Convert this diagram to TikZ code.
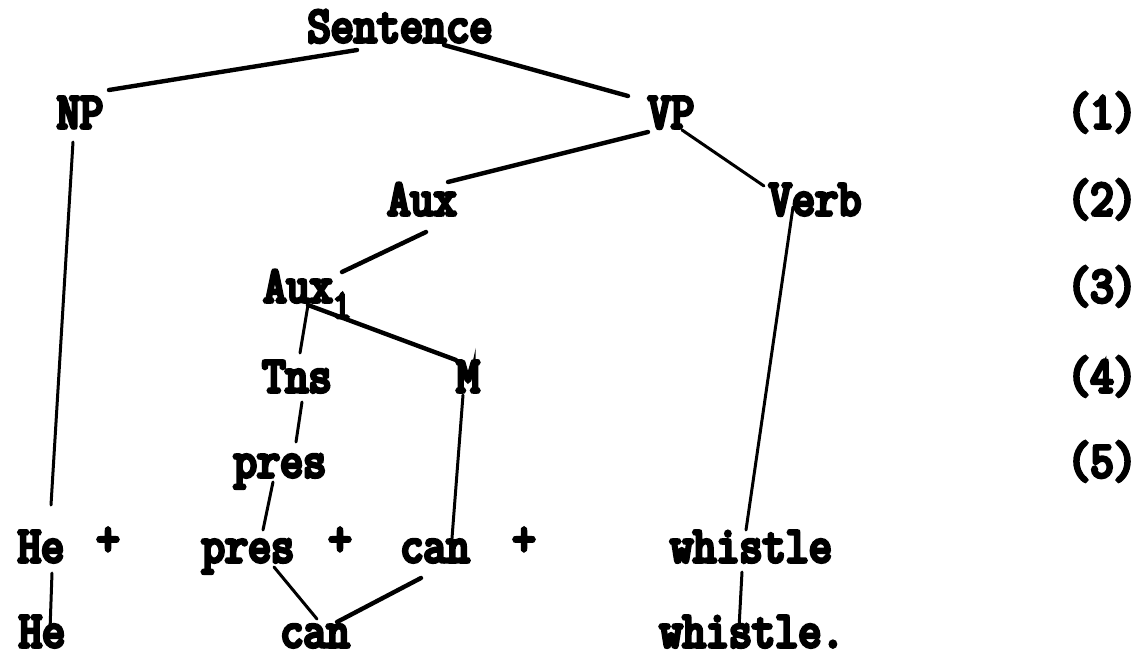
\documentclass[tikz,border=0pt]{standalone}
\usepackage{fontspec}
\newfontfamily\tw{Latin Modern Mono}[FakeStretch=0.88, FakeBold=7]
\usetikzlibrary{calc}
\begin{document}
\begin{tikzpicture}[x=0.5pt,y=-0.5pt,
  lab/.style={font={\tw\fontsize{25.5}{30}\selectfont}, inner sep=0pt, anchor=base},
  edge/.style={line width=2.2pt, line cap=round},
  thinedge/.style={line width=1.5pt, line cap=round}]
\useasboundingbox (0,0) rectangle (1135,659);
\fill[white] (0,0) rectangle (1135,659);
% row 0
\node[lab] (S) at (400,42) {Sentence};
% row 1
\node[lab] (NP) at (80,128) {NP};
\node[lab] (VP) at (671,128) {VP};
\node[lab] (L1) at (1102,128) {(1)};
% row 2
\node[lab] (Aux) at (422,215) {Aux};
\node[lab] (Verb) at (815,215) {Verb};
\node[lab] (L2) at (1102,215) {(2)};
% row 3
\node[lab, anchor=base west] (Aux1) at (263,302) {Aux\raisebox{-8pt}{\fontsize{20}{20}\selectfont 1}};
\node[lab] (L3) at (1102,302) {(3)};
% row 4
\node[lab] (Tns) at (297,392) {Tns};
\node[lab] (M) at (468,392) {M};
\node[lab] (L4) at (1102,392) {(4)};
% row 5
\node[lab] (presA) at (280,477) {pres};
\node[lab] (L5) at (1102,477) {(5)};
% row 6
\node[lab] (He6) at (41,562) {He};
\node[lab] (p1) at (108,555) {+};
\node[lab] (presB) at (248,562) {pres};
\node[lab] (p2) at (340,555) {+};
\node[lab] (canB) at (435,562) {can};
\node[lab] (p3) at (524,555) {+};
\node[lab] (whB) at (751,562) {whistle};
% row 7
\node[lab] (He7) at (42,647) {He};
\node[lab] (canC) at (315,647) {can};
\node[lab] (whC) at (752,647) {whistle.};
% connectors
\draw[edge] ($(S.base)+(-43,8)$) -- ($(NP.base)+(29,-38)$);
\draw[edge] ($(S.base)+(44,3)$) -- ($(VP.base)+(-43,-32)$);
\draw[edge] ($(VP.base)+(-23,4)$) -- ($(Aux.base)+(26,-33)$);
\draw[thinedge] ($(VP.base)+(11,2)$) -- ($(Verb.base)+(-51,-29)$);
\draw[thinedge] ($(NP.base)+(-7,14)$) -- ($(He6.base)+(10,-57)$);
\draw[edge] ($(Aux.base)+(4,17)$) -- ($(Aux1.base west)+(79,-30)$);
\draw[thinedge] ($(Aux1.base west)+(45,3)$) -- ($(Tns.base)+(3,-39)$);
\draw[edge] ($(Aux1.base west)+(45,3)$) -- ($(M.base)+(-12,-32)$);
\draw[thinedge] ($(Tns.base)+(5,10)$) -- ($(presA.base)+(16,-35)$);
\draw[thinedge] ($(M.base)+(-5,3)$) -- ($(canB.base)+(17,-24)$);
\draw[thinedge] ($(presA.base)+(-7,5)$) -- ($(presB.base)+(15,-32)$);
\draw[thinedge] ($(Verb.base)+(-22,-8)$) -- ($(whB.base)+(-5,-32)$);
\draw[thinedge] ($(He6.base)+(11,11)$) -- ($(He7.base)+(8,-17)$);
\draw[thinedge] ($(presB.base)+(26,5)$) -- ($(canC.base)+(2,-28)$);
\draw[edge] ($(canB.base)+(-14,16)$) -- ($(canC.base)+(22,-25)$);
\draw[thinedge] ($(whB.base)+(-9,10)$) -- ($(whC.base)+(-13,-19)$);
\end{tikzpicture}
\end{document}
